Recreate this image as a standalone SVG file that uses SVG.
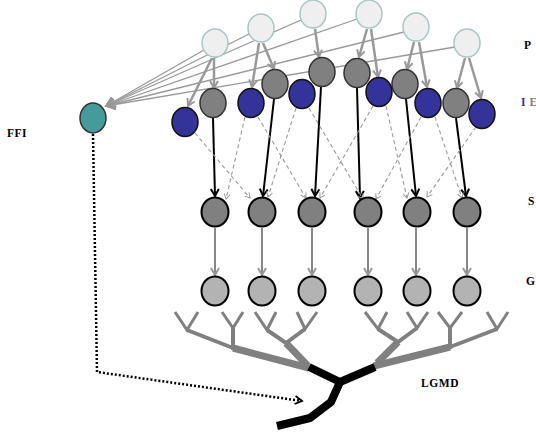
<svg xmlns="http://www.w3.org/2000/svg" width="536" height="436" viewBox="0 0 536 436">
<defs>
<marker id="ag" markerUnits="userSpaceOnUse" markerWidth="12" markerHeight="12" refX="8" refY="5" orient="auto"><path d="M1,1 L8,5 L1,9" fill="none" stroke="#999" stroke-width="2"/></marker>
<marker id="ab" markerUnits="userSpaceOnUse" markerWidth="12" markerHeight="12" refX="8" refY="5" orient="auto"><path d="M1,1 L8,5 L1,9" fill="none" stroke="#000" stroke-width="2"/></marker>
<marker id="ad" markerUnits="userSpaceOnUse" markerWidth="10" markerHeight="10" refX="6" refY="4" orient="auto"><path d="M1,1 L6,4 L1,7" fill="none" stroke="#999" stroke-width="1"/></marker>
<marker id="af" markerUnits="userSpaceOnUse" markerWidth="14" markerHeight="14" refX="10" refY="6" orient="auto"><path d="M1,1 L10,6 L1,11" fill="none" stroke="#999" stroke-width="1.5"/></marker>
<marker id="at" markerUnits="userSpaceOnUse" markerWidth="12" markerHeight="12" refX="8" refY="5" orient="auto"><path d="M1,1 L8,5 L1,9" fill="none" stroke="#000" stroke-width="1.8"/></marker>
</defs>
<style>
.p{fill:#efefef;stroke:#a9c6c6;stroke-width:1.5}
.e{fill:#808080;stroke:#333;stroke-width:1.5}
.i{fill:#333399;stroke:#111;stroke-width:1.5}
.s{fill:#808080;stroke:#000;stroke-width:2}
.g{fill:#b3b3b3;stroke:#000;stroke-width:2}
.ffi{fill:#459a9a;stroke:#333;stroke-width:1.5}
.pa{stroke:#999;stroke-width:2.5;fill:none;marker-end:url(#ag)}
.fl{stroke:#999;stroke-width:1.3;fill:none;marker-end:url(#af)}
.ba{stroke:#000;stroke-width:2;fill:none;marker-end:url(#ab)}
.da{stroke:#999;stroke-width:1.1;stroke-dasharray:4,3;fill:none;marker-end:url(#ad)}
.sg{stroke:#888;stroke-width:2;fill:none;marker-end:url(#ag)}
.tr{stroke:#808080;fill:none}
.lg{stroke:#000;stroke-width:8;fill:none;stroke-linejoin:round}
.lb{font-family:"Liberation Serif",serif;font-weight:bold;font-size:11.5px}
</style>
<g id="connectors">
<path class="fl" d="M204,50 L106,106"/>
<path class="fl" d="M249,34 L106,106"/>
<path class="fl" d="M301,20 L106,106"/>
<path class="fl" d="M357,19 L106,106"/>
<path class="fl" d="M404,32 L106,106"/>
<path class="fl" d="M455,47 L106,106"/>
<path class="pa" d="M212,58 L188,106"/>
<path class="pa" d="M214,58 L214,88"/>
<path class="pa" d="M259,43 L252,87"/>
<path class="pa" d="M263,43 L274,69"/>
<path class="pa" d="M315,29 L319,57"/>
<path class="pa" d="M367,29 L359,57"/>
<path class="pa" d="M371,29 L378,77"/>
<path class="pa" d="M414,42 L407,69"/>
<path class="pa" d="M419,42 L427,87"/>
<path class="pa" d="M465,58 L457,88"/>
<path class="pa" d="M469,58 L481,98"/>
<path class="ba" d="M213,118 L215,196"/>
<path class="ba" d="M274,99 L263,196"/>
<path class="ba" d="M321,87 L315,196"/>
<path class="ba" d="M357,88 L360,198"/>
<path class="ba" d="M406,99 L416,196"/>
<path class="ba" d="M456,118 L466,196"/>
<path class="da" d="M195,133 L250,198"/>
<path class="da" d="M245,117 L226,199"/>
<path class="da" d="M258,117 L306,198"/>
<path class="da" d="M296,108 L268,197"/>
<path class="da" d="M309,108 L363,199"/>
<path class="da" d="M373,106 L320,198"/>
<path class="da" d="M386,106 L407,198"/>
<path class="da" d="M421,117 L376,199"/>
<path class="da" d="M435,117 L462,198"/>
<path class="da" d="M476,127 L427,197"/>
<path class="sg" d="M215,228 L215,275"/>
<path class="sg" d="M262,228 L262,275"/>
<path class="sg" d="M312,228 L312,275"/>
<path class="sg" d="M368,228 L368,275"/>
<path class="sg" d="M416,228 L416,275"/>
<path class="sg" d="M467,228 L467,275"/>
<path d="M93,134 L97,372 L302,401" fill="none" stroke="#000" stroke-width="2.5" stroke-dasharray="2,2" marker-end="url(#at)"/>
</g>
<g id="dendrites">
<path class="tr" stroke-width="7" d="M309,368 L233,348"/>
<path class="tr" stroke-width="4" d="M233,348 L187,330 M233,350 L233,328"/>
<path class="tr" stroke-width="3" d="M175,312 L187,330 L198,312 M222,312 L233,328 L243,312"/>
<path class="tr" stroke-width="7" d="M308,366 L286,343"/>
<path class="tr" stroke-width="4" d="M267,330 L286,343 L305,329"/>
<path class="tr" stroke-width="3" d="M255,312 L267,330 L276,312 M297,312 L305,329 L317,312"/>
<path class="tr" stroke-width="7" d="M374,366 L450,347"/>
<path class="tr" stroke-width="4" d="M450,347 L497,329 M450,349 L450,328"/>
<path class="tr" stroke-width="3" d="M438,312 L450,328 L462,312 M487,312 L497,329 L508,312"/>
<path class="tr" stroke-width="7" d="M377,363 L398,342"/>
<path class="tr" stroke-width="4" d="M378,329 L398,342 L417,328"/>
<path class="tr" stroke-width="3" d="M365,312 L378,329 L387,312 M407,312 L417,328 L428,312"/>
</g>
<g id="lgmd">
<path class="lg" d="M309,367 L340,382 L375,367"/>
<path class="lg" d="M340,382 L331,402 L310,418 L277,426"/>
</g>
<g id="P1"><ellipse class="p" cx="215" cy="43" rx="13" ry="14"/></g>
<g id="P2"><ellipse class="p" cx="261" cy="28" rx="13" ry="14"/></g>
<g id="P3"><ellipse class="p" cx="313" cy="14" rx="13" ry="14"/></g>
<g id="P4"><ellipse class="p" cx="369" cy="14" rx="13" ry="14"/></g>
<g id="P5"><ellipse class="p" cx="416" cy="27" rx="13" ry="14"/></g>
<g id="P6"><ellipse class="p" cx="467" cy="43" rx="13" ry="14"/></g>
<g id="E1"><ellipse class="e" cx="213" cy="103" rx="13" ry="14.5"/></g>
<g id="E2"><ellipse class="e" cx="275" cy="84" rx="13" ry="14.5"/></g>
<g id="E3"><ellipse class="e" cx="322" cy="72" rx="13" ry="14.5"/></g>
<g id="E4"><ellipse class="e" cx="357" cy="73" rx="13" ry="14.5"/></g>
<g id="E5"><ellipse class="e" cx="405" cy="84" rx="13" ry="14.5"/></g>
<g id="E6"><ellipse class="e" cx="456" cy="103" rx="13" ry="14.5"/></g>
<g id="I1"><ellipse class="i" cx="185" cy="122" rx="13" ry="14.5"/></g>
<g id="I2"><ellipse class="i" cx="251" cy="103" rx="13" ry="14.5"/></g>
<g id="I3"><ellipse class="i" cx="302" cy="94" rx="13" ry="14.5"/></g>
<g id="I4"><ellipse class="i" cx="379" cy="92" rx="13" ry="14.5"/></g>
<g id="I5"><ellipse class="i" cx="428" cy="103" rx="13" ry="14.5"/></g>
<g id="I6"><ellipse class="i" cx="482" cy="114" rx="13" ry="14.5"/></g>
<g id="S1"><ellipse class="s" cx="215" cy="212" rx="13.5" ry="14.5"/></g>
<g id="S2"><ellipse class="s" cx="262" cy="212" rx="13.5" ry="14.5"/></g>
<g id="S3"><ellipse class="s" cx="312" cy="212" rx="13.5" ry="14.5"/></g>
<g id="S4"><ellipse class="s" cx="368" cy="212" rx="13.5" ry="14.5"/></g>
<g id="S5"><ellipse class="s" cx="417" cy="212" rx="13.5" ry="14.5"/></g>
<g id="S6"><ellipse class="s" cx="467" cy="212" rx="13.5" ry="14.5"/></g>
<g id="G1"><ellipse class="g" cx="215" cy="291" rx="13.5" ry="14.5"/></g>
<g id="G2"><ellipse class="g" cx="262" cy="291" rx="13.5" ry="14.5"/></g>
<g id="G3"><ellipse class="g" cx="312" cy="291" rx="13.5" ry="14.5"/></g>
<g id="G4"><ellipse class="g" cx="368" cy="291" rx="13.5" ry="14.5"/></g>
<g id="G5"><ellipse class="g" cx="417" cy="291" rx="13.5" ry="14.5"/></g>
<g id="G6"><ellipse class="g" cx="467" cy="291" rx="13.5" ry="14.5"/></g>
<g id="FFI"><ellipse class="ffi" cx="93" cy="118" rx="13" ry="15"/></g>
<g id="labels">
<text class="lb" x="524" y="49">P</text>
<text class="lb" x="521" y="106"><tspan fill="#333399">I</tspan><tspan fill="#808080" dx="4">E</tspan></text>
<text class="lb" x="528" y="205">S</text>
<text class="lb" x="526" y="285">G</text>
<text class="lb" x="7" y="137" font-size="12" letter-spacing="0.5">FFI</text>
<text class="lb" x="421" y="387" font-size="12.5" letter-spacing="0.6">LGMD</text>
</g>
</svg>
